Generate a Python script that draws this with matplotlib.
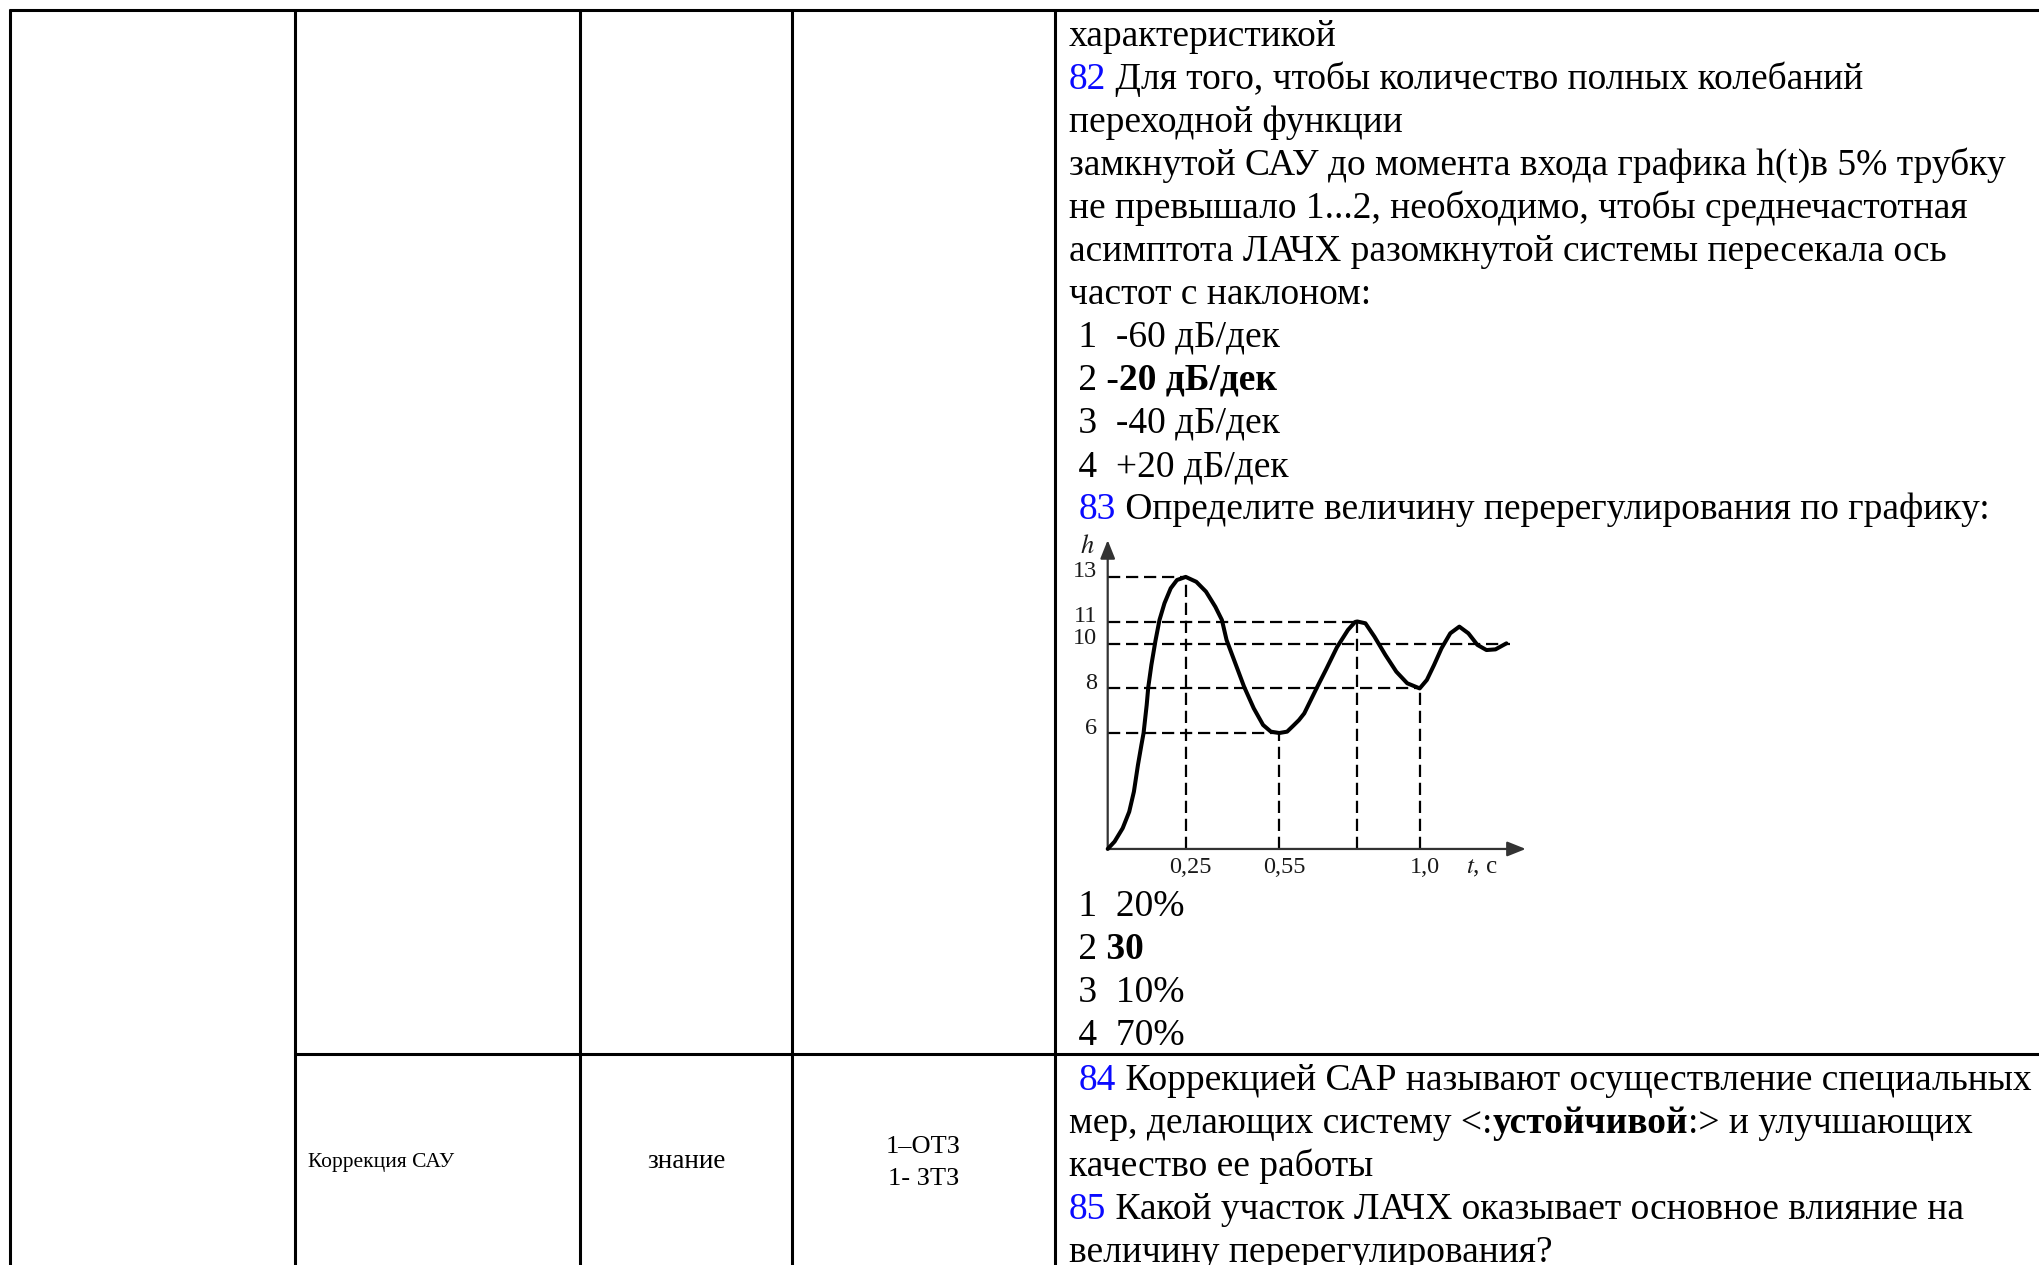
import matplotlib
matplotlib.use('Agg')
import matplotlib.pyplot as plt
from matplotlib import transforms

plt.rcParams['font.family'] = ['Liberation Serif', 'DejaVu Serif']
plt.rcParams['mathtext.fontset'] = 'stix'

# ---- данные: текст вопросов ----
# стиль: n - обычный, b - жирный, q - синий номер вопроса
TOP_LINES = [
    [("характеристикой", 'n')],
    [("82", 'q'), (" Для того, чтобы количество полных колебаний", 'n')],
    [("переходной функции", 'n')],
    [("замкнутой САУ до момента входа графика h(t)в 5% трубку", 'n')],
    [("не превышало 1...2, необходимо, чтобы среднечастотная", 'n')],
    [("асимптота ЛАЧХ разомкнутой системы пересекала ось", 'n')],
    [("частот с наклоном:", 'n')],
    [(" 1  -60 дБ/дек", 'n')],
    [(" 2", 'n'), (" -20 дБ/дек", 'b')],
    [(" 3  -40 дБ/дек", 'n')],
    [(" 4  +20 дБ/дек", 'n')],
    [(" ", 'n'), ("83", 'q'), (" Определите величину перерегулирования по графику:", 'n')],
]
ANSWER_LINES = [
    [(" 1  20%", 'n')],
    [(" 2", 'n'), (" 30", 'b')],
    [(" 3  10%", 'n')],
    [(" 4  70%", 'n')],
]
BOTTOM_LINES = [
    [(" ", 'n'), ("84", 'q'), (" Коррекцией САР называют осуществление специальных", 'n')],
    [("мер, делающих систему <:", 'n'), ("устойчивой", 'b'), (":> и улучшающих", 'n')],
    [("качество ее работы", 'n')],
    [("85", 'q'), (" Какой участок ЛАЧХ оказывает основное влияние на", 'n')],
    [("величину перерегулирования?", 'n')],
]
CELL_TOPIC = "Коррекция САУ"
CELL_LEVEL = "знание"
CELL_TASKS = "1–ОТЗ\n1- ЗТЗ"

# ---- данные: график h(t) ----
T_CURVE = [0.0, 0.022, 0.048, 0.069, 0.084, 0.097, 0.108, 0.115, 0.125, 0.130,
           0.140, 0.153, 0.166, 0.182, 0.202, 0.222, 0.25, 0.284, 0.315, 0.345,
           0.366, 0.381, 0.407, 0.437, 0.468, 0.498, 0.523, 0.55, 0.575, 0.595,
           0.613, 0.630, 0.650, 0.671, 0.700, 0.735, 0.770, 0.793, 0.80, 0.826,
           0.855, 0.890, 0.925, 0.960, 1.0, 1.023, 1.046, 1.070, 1.098, 1.127,
           1.156, 1.185, 1.214, 1.243, 1.278]
H_CURVE = [0.8, 1.13, 1.73, 2.47, 3.37, 4.57, 5.46, 6.0, 7.26, 8.05,
           9.05, 10.13, 11.07, 11.82, 12.49, 12.86, 13.0, 12.78, 12.34, 11.66,
           11.07, 10.17, 9.2, 8.08, 7.11, 6.36, 6.06, 6.0, 6.06, 6.33,
           6.58, 6.88, 7.45, 8.05, 8.85, 9.85, 10.62, 10.98, 11.0, 10.92,
           10.32, 9.5, 8.75, 8.23, 8.0, 8.38, 9.05, 9.80, 10.47, 10.77,
           10.47, 9.95, 9.72, 9.75, 10.02]
H_LEVELS = [13, 11, 10, 8, 6]
H_LEVEL_END = [0.25, 0.80, 1.29, 1.0, 0.55]
T_MARKS = [0.25, 0.55, 0.80, 1.0]
T_MARK_TOP = [13, 6, 11, 8]
T_LABELS = ['0,25', '0,55', '1,0']
T_LABEL_POS = [0.25, 0.55, 1.0]
AXIS_H0 = 0.8
T_AXIS_END = 1.34
H_AXIS_END = 14.65

W, H = 2040, 1265
FS = 27
BLUE = '#0a0aff'

fig = plt.figure(figsize=(W / 100, H / 100), dpi=100)
fig.patch.set_facecolor('white')
base = fig.add_axes([0, 0, 1, 1])
base.set_xlim(0, W)
base.set_ylim(H, 0)
base.axis('off')

# сетка таблицы
COL_X = [10, 295, 580, 792, 1055]
TOP_Y = 10
ROW_Y = 1054
for x in COL_X:
    base.plot([x, x], [TOP_Y - 1, H], color='black', lw=2.2, solid_capstyle='butt')
base.plot([COL_X[0] - 1, W], [TOP_Y, TOP_Y], color='black', lw=2.2, solid_capstyle='butt')
base.plot([COL_X[1], W], [ROW_Y, ROW_Y], color='black', lw=2.2, solid_capstyle='butt')

renderer = fig.canvas.get_renderer()


def put_line(x, y, parts):
    for txt, style in parts:
        t = base.text(x, y, txt, fontsize=FS, va='baseline', ha='left',
                      color=BLUE if style == 'q' else 'black',
                      fontweight='bold' if style == 'b' else 'normal')
        bb = t.get_window_extent(renderer=renderer)
        x += bb.width


LEFT_X = 1069
STEP = 43
for i, parts in enumerate(TOP_LINES):
    put_line(LEFT_X, 46 + i * STEP, parts)
for i, parts in enumerate(ANSWER_LINES):
    put_line(LEFT_X, 916 + i * STEP, parts)
for i, parts in enumerate(BOTTOM_LINES):
    put_line(LEFT_X, 1090 + i * STEP, parts)

# ячейки таблицы
base.text(308, 1162, CELL_TOPIC, fontsize=15.5, va='center', ha='left')
base.text((COL_X[2] + COL_X[3]) / 2, 1162, CELL_LEVEL, fontsize=19.5, va='center', ha='center')
base.text((COL_X[3] + COL_X[4]) / 2, 1163, CELL_TASKS, fontsize=19, va='center', ha='center',
          multialignment='center', linespacing=1.55)

# ---- график ----
T0_PX, T_SCALE = 1107.7, 312.0
H_ZERO_PX, H_SCALE = 866.8, 22.3
t_lo, t_hi = -0.25, 1.45
h_lo, h_hi = -1.0, 16.0
x0 = T0_PX + t_lo * T_SCALE
x1 = T0_PX + t_hi * T_SCALE
y0 = H_ZERO_PX - h_lo * H_SCALE
y1 = H_ZERO_PX - h_hi * H_SCALE
ax = fig.add_axes([x0 / W, 1 - y0 / H, (x1 - x0) / W, (y0 - y1) / H])
ax.set_xlim(t_lo, t_hi)
ax.set_ylim(h_lo, h_hi)
ax.axis('off')

dash = dict(color='black', lw=1.6, linestyle=(0, (5.5, 2.6)), zorder=2)
for lvl, end in zip(H_LEVELS, H_LEVEL_END):
    ax.plot([0, end], [lvl, lvl], **dash)
for tm, top in zip(T_MARKS, T_MARK_TOP):
    ax.plot([tm, tm], [AXIS_H0, top], **dash)

ax.plot(T_CURVE, H_CURVE, color='black', lw=2.9, solid_joinstyle='round',
        solid_capstyle='round', zorder=4)

arrow = dict(arrowstyle='-|>,head_length=0.7,head_width=0.28', color='#333333',
             lw=1.6, mutation_scale=16, shrinkA=0, shrinkB=0)
ax.annotate('', xy=(T_AXIS_END, AXIS_H0), xytext=(0, AXIS_H0), arrowprops=arrow, zorder=3)
ax.annotate('', xy=(0, H_AXIS_END), xytext=(0, AXIS_H0), arrowprops=arrow, zorder=3)

lab_col = '#1a1a1a'
up = transforms.offset_copy(ax.transData, fig=fig, x=0, y=5, units='dots')
for lvl in H_LEVELS:
    ax.text(-0.035, lvl, str(lvl), transform=up, fontsize=17.5, ha='right', va='center',
            color=lab_col)
right = transforms.offset_copy(ax.transData, fig=fig, x=5, y=0, units='dots')
for lbl, pos in zip(T_LABELS, T_LABEL_POS):
    ax.text(pos, -0.05, lbl, transform=right, fontsize=17.5, ha='center', va='center',
            color=lab_col)
ax.text(1.20, -0.05, '$t$, с', fontsize=18, ha='center', va='center', color=lab_col)
ax.text(-0.065, 14.35, '$h$', fontsize=19, ha='center', va='center', color=lab_col)

fig.savefig('out.png', dpi=100, facecolor='white')
